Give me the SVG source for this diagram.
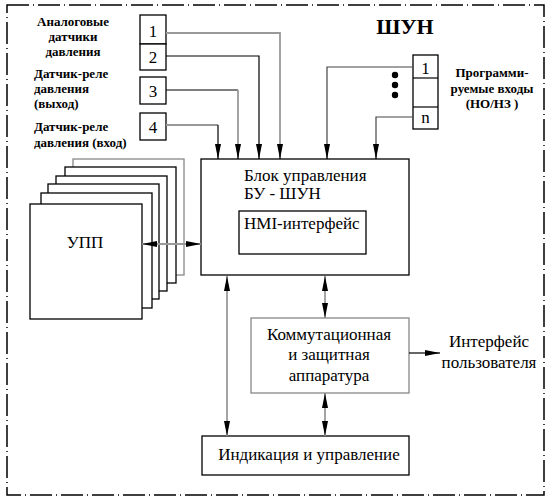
<svg xmlns="http://www.w3.org/2000/svg" width="550" height="501" viewBox="0 0 550 501" font-family="'Liberation Serif', serif">
<defs>
<marker id="ah" markerUnits="userSpaceOnUse" markerWidth="16" markerHeight="8" refX="15" refY="4" orient="auto-start-reverse">
<path d="M0,1 L15,4 L0,7 z" fill="#000"/>
</marker>
<style>
.box{fill:#fff;stroke:#000;stroke-width:1.3}
.gbox{fill:#fff;stroke:#888;stroke-width:1.3}
.t{font-family:"Liberation Serif",serif;font-size:17px;fill:#000}
.tb{font-family:"Liberation Serif",serif;font-size:13px;font-weight:bold;fill:#000}
.k{fill:none;stroke:#000;stroke-width:1.2}
.g{fill:none;stroke:#999;stroke-width:1.8}
.d{fill:none;stroke:#444;stroke-width:1.2}
</style>
</defs>
<rect width="550" height="501" fill="#fff"/>
<g id="frame">
<rect x="7" y="5" width="537" height="490" fill="none" stroke="#000" stroke-width="1.5" stroke-dasharray="22 4 1 4"/>
<text x="405" y="34" font-family="'Liberation Serif', serif" font-size="22" font-weight="bold" text-anchor="middle">ШУН</text>
</g>
<g id="labels">
<text class="tb" x="73" y="26" text-anchor="middle">Аналоговые</text>
<text class="tb" x="73" y="41" text-anchor="middle">датчики</text>
<text class="tb" x="73" y="56" text-anchor="middle">давления</text>
<text class="tb" x="34" y="78">Датчик-реле</text>
<text class="tb" x="34" y="93">давления</text>
<text class="tb" x="34" y="108">(выход)</text>
<text class="tb" x="34" y="131">Датчик-реле</text>
<text class="tb" x="34" y="147">давления (вход)</text>
<text class="tb" x="492" y="77" text-anchor="middle">Программи-</text>
<text class="tb" x="492" y="93" text-anchor="middle">руемые входы</text>
<text class="tb" x="492" y="108" text-anchor="middle">(НО/НЗ )</text>
</g>
<g id="sensors">
<rect class="box" x="140" y="15" width="26" height="29"/>
<text class="t" x="153" y="37" text-anchor="middle" font-size="16">1</text>
<rect class="box" x="140" y="44" width="26" height="26"/>
<text class="t" x="153" y="63" text-anchor="middle" font-size="16">2</text>
<rect class="box" x="140" y="77" width="26" height="27"/>
<text class="t" x="153" y="97" text-anchor="middle" font-size="16">3</text>
<rect class="box" x="140" y="113" width="26" height="27"/>
<text class="t" x="153" y="133" text-anchor="middle" font-size="16">4</text>
</g>
<g id="prog-inputs">
<rect class="box" x="413" y="55" width="25" height="74"/>
<line x1="413" y1="78" x2="438" y2="78" stroke="#000" stroke-width="1.2"/>
<line x1="413" y1="107" x2="438" y2="107" stroke="#000" stroke-width="1.2"/>
<text class="t" x="425.5" y="74" text-anchor="middle" font-size="16">1</text>
<text class="t" x="425.5" y="123" text-anchor="middle" font-size="16">n</text>
<circle cx="395" cy="75" r="3.2" fill="#000"/>
<circle cx="395" cy="85" r="3.2" fill="#000"/>
<circle cx="395" cy="95" r="3.2" fill="#000"/>
</g>
<g id="upp">
<rect class="gbox" x="73" y="159" width="111" height="116"/>
<rect class="box" x="65" y="167" width="111" height="116"/>
<rect class="box" x="56" y="176" width="111" height="115"/>
<rect class="box" x="48" y="184" width="111" height="115"/>
<rect class="box" x="41" y="193" width="111" height="115"/>
<rect class="box" x="30" y="204" width="112" height="115"/>
<text class="t" x="85" y="248" text-anchor="middle">УПП</text>
</g>
<g id="bu">
<rect class="box" x="201" y="159" width="208" height="116"/>
<text class="t" x="244" y="181">Блок управления</text>
<text class="t" x="244" y="199">БУ - ШУН</text>
<rect class="box" x="239" y="211" width="127" height="43"/>
<text class="t" x="244" y="229">HMI-интерфейс</text>
</g>
<g id="komm">
<rect class="gbox" x="251" y="318" width="158" height="75"/>
<text class="t" x="329" y="340" text-anchor="middle">Коммутационная</text>
<text class="t" x="329" y="360" text-anchor="middle">и защитная</text>
<text class="t" x="329" y="381" text-anchor="middle">аппаратура</text>
</g>
<g id="user-iface">
<text class="t" x="489" y="347" text-anchor="middle">Интерфейс</text>
<text class="t" x="489" y="368" text-anchor="middle">пользователя</text>
</g>
<g id="indication">
<rect class="box" x="202" y="436" width="207" height="39"/>
<text class="t" x="309" y="460" text-anchor="middle" font-size="17.5">Индикация и управление</text>
</g>
<g id="connectors">
<polyline class="g" points="166,33 280,33 280,152"/>
<polyline class="k" points="166,56 259,56 259,152"/>
<polyline class="k" points="166,90 238,90"/>
<polyline class="g" points="238,90 238,152"/>
<polyline class="g" points="166,125 218,125"/>
<polyline class="k" points="218,125 218,152"/>
<polyline class="d" points="413,67 327,67 327,152"/>
<polyline class="d" points="413,117 376,117 376,152"/>
<line x1="218" y1="150" x2="218" y2="159" class="k" marker-end="url(#ah)"/>
<line x1="238" y1="150" x2="238" y2="159" class="k" marker-end="url(#ah)"/>
<line x1="259" y1="150" x2="259" y2="159" class="k" marker-end="url(#ah)"/>
<line x1="280" y1="150" x2="280" y2="159" class="k" marker-end="url(#ah)"/>
<line x1="327" y1="150" x2="327" y2="159" class="k" marker-end="url(#ah)"/>
<line x1="376" y1="150" x2="376" y2="159" class="k" marker-end="url(#ah)"/>
<line x1="142" y1="244" x2="201" y2="244" class="g" marker-start="url(#ah)" marker-end="url(#ah)"/>
<line x1="227" y1="276" x2="227" y2="436" class="g" marker-start="url(#ah)" marker-end="url(#ah)"/>
<line x1="325" y1="276" x2="325" y2="318" class="g" marker-start="url(#ah)" marker-end="url(#ah)"/>
<line x1="325" y1="393" x2="325" y2="436" class="g" marker-start="url(#ah)" marker-end="url(#ah)"/>
<line x1="409" y1="353" x2="440" y2="353" class="k" marker-end="url(#ah)"/>
</g>
</svg>
